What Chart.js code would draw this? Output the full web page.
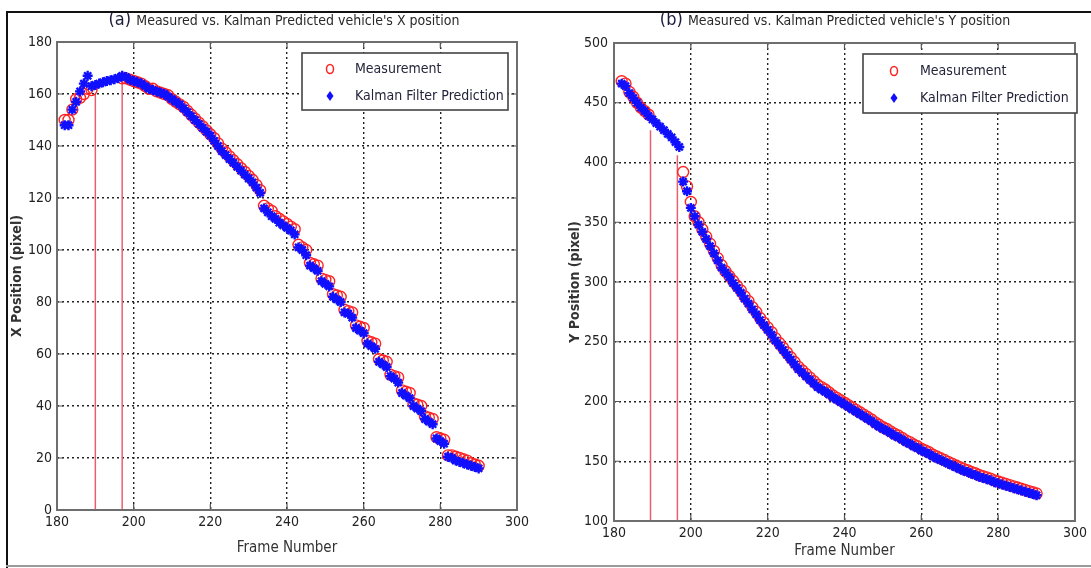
<!DOCTYPE html>
<html>
<head>
<meta charset="utf-8">
<script src="https://cdn.jsdelivr.net/npm/chart.js@4.4.1/dist/chart.umd.min.js"></script>
<style>
  html, body { margin:0; padding:0; background:#fff; }
  body { width:1091px; height:568px; position:relative; overflow:hidden; }
  canvas { position:absolute; top:0; }
  #cL { left:0; }
  #cR { left:546px; }
  .ln { position:absolute; z-index:5; }
</style>
</head>
<body>
<canvas id="cL" width="546" height="568"></canvas>
<canvas id="cR" width="545" height="568"></canvas>
<div class="ln" style="left:6px;top:11px;width:1085px;height:2px;background:#111;"></div>
<div class="ln" style="left:6px;top:11px;width:2px;height:557px;background:#111;"></div>
<div class="ln" style="left:6px;top:565px;width:1085px;height:2px;background:#9a9a9a;"></div>
<script>
// ---------------- DATA ----------------
// (a) X position
const framesKalmanX = [182,183,184,185,186,187,188,189,190,191,192,193,194,195,196,197,198,199,200,201,202,203,204,205,206,207,208,209,210,211,212,213,214,215,216,217,218,219,220,221,222,223,224,225,226,227,228,229,230,231,232,233,234,235,236,237,238,239,240,241,242,243,244,245,246,247,248,249,250,251,252,253,254,255,256,257,258,259,260,261,262,263,264,265,266,267,268,269,270,271,272,273,274,275,276,277,278,279,280,281,282,283,284,285,286,287,288,289,290];
const kalmanX = [148,148,154,157,161,164,167,163,163.5,164,164.5,165,165.3,165.7,166.2,167,166.5,165.5,165,164.5,164,163,162,161.5,161,160.5,160,159,158,157,156,154.5,153,151.5,150,148.5,147,145.5,144,142,140,138,136.5,135,133.5,132,130.5,129,127.5,126,124,122,116,114.5,113,112,110.5,109.5,108.5,107.5,106,101,100,98,94,93,92,88,87,86,82,81,80,76,75.5,74,70,69,68,64,63,62,57,56,55,51.5,50.5,49,45,44,43,40,39,38,35,34,33,27.5,26.5,25.5,20.5,20,19,18.5,18,17.5,17,16.5,16];
const framesMeasX = [182,183,184,185,186,187,188,189,197,198,199,200,201,202,203,204,205,206,207,208,209,210,211,212,213,214,215,216,217,218,219,220,221,222,223,224,225,226,227,228,229,230,231,232,233,234,235,236,237,238,239,240,241,242,243,244,245,246,247,248,249,250,251,252,253,254,255,256,257,258,259,260,261,262,263,264,265,266,267,268,269,270,271,272,273,274,275,276,277,278,279,280,281,282,283,284,285,286,287,288,289,290];
const measX = [150,150,154,158,158.5,160,162,161.5,166,166,165.5,165,164.5,164,163,162,162,161,160.5,160,159.5,158,157,156,155,153.5,152,150.5,149,147.5,146,144.5,143,141,139,137.5,136,134.5,133,131.5,130,128.5,127,125,123,117,116,115,113,112,111,110,109,108,102,101,100,95,94.5,94,89,88.5,88,83,82.5,82,77,76.5,76,71,70.5,70,65,64.5,64,58,57.5,57,52,51.5,51,46,45.5,45,41,40.5,40,36,35.5,35,28,27.5,27,21,21,20.5,20,19.5,19,18,17.5,17];
const occlusionFramesX = [190,197];
const occlusionTopsX = [160,165];

// (b) Y position
const framesKalmanY = framesKalmanX;
const kalmanY = [466,464,458,454,450,446,443,439,436,433,430,427,424,421,417,413,384,376,362,355,348,342,336,330,324,318,312,308,304,299,295,291,286,282,277,273,268,264,260,256,251,247,243,239,235,231,227,224,221,218,215,212,210,208,206,203.5,201.5,199.5,197.5,195.5,193.5,191.5,189.5,187.5,185.5,183.5,181,179,177,175.5,173.5,171.5,170,168,166,164.5,162.5,161,159,157.5,156,154,152.5,151,149.5,148,146.5,145,143.5,142,141,139.5,138.5,137,136,135,134,132.5,131.5,130.5,129.5,128.5,127.5,126.5,125.5,124.5,123.5,122.5,121.5];
const framesMeasY = [182,183,184,185,186,187,188,189,198,199,200,201,202,203,204,205,206,207,208,209,210,211,212,213,214,215,216,217,218,219,220,221,222,223,224,225,226,227,228,229,230,231,232,233,234,235,236,237,238,239,240,241,242,243,244,245,246,247,248,249,250,251,252,253,254,255,256,257,258,259,260,261,262,263,264,265,266,267,268,269,270,271,272,273,274,275,276,277,278,279,280,281,282,283,284,285,286,287,288,289,290];
const measY = [468,466,459,455,450,446,443,440,392,380,367,355,350,344,338,332,326,320,314,309,305,301,297,293,288,284,279,275,270,266,262,258,253,249,245,241,237,233,229,226,223,220,217,214,212,210,207.5,205,203,201,199,197,195,193,191,189,187,185,182.5,180.5,178.5,177,175,173,171.5,169.5,167.5,166,164,162.5,160.5,159,157.5,155.5,154,152.5,151,149.5,148,146.5,145,143.5,142.5,141,140,138.5,137.5,136.5,135.5,134,133,132,131,130,129,128,127,126,125,124,123];
const occlusionFramesY = [189.5,196.5];
const occlusionTopsY = [427,406];

const xTickValues = [180,200,220,240,260,280,300];
const yTicksX = [0,20,40,60,80,100,120,140,160,180];
const yTicksY = [100,150,200,250,300,350,400,450,500];

// ---------------- STYLE ----------------
const FONT = "'Liberation Sans Narrow','DejaVu Sans Condensed','Liberation Sans',Arial,sans-serif";
const TXT = '#222';
const RED = '#ff2323';
const BLUE = '#1010ff';
const OCC = '#e8606e';

function pts(xs, ys){ return xs.map((x,i)=>({x:x, y:ys[i]})); }

const framePlugin = {
  id:'frame',
  afterDraw(chart, args, o){
    const {ctx, chartArea:a, scales} = chart;
    ctx.save();
    // tick marks inside
    ctx.strokeStyle = '#555'; ctx.lineWidth = 1.2;
    scales.x.ticks.forEach(t=>{
      const px = scales.x.getPixelForValue(t.value);
      ctx.beginPath(); ctx.moveTo(px, a.bottom); ctx.lineTo(px, a.bottom-6);
      ctx.moveTo(px, a.top); ctx.lineTo(px, a.top+6); ctx.stroke();
    });
    scales.y.ticks.forEach(t=>{
      const py = scales.y.getPixelForValue(t.value);
      ctx.beginPath(); ctx.moveTo(a.left, py); ctx.lineTo(a.left+6, py);
      ctx.moveTo(a.right, py); ctx.lineTo(a.right-6, py); ctx.stroke();
    });
    // box
    ctx.strokeStyle = '#6e6e6e'; ctx.lineWidth = 2;
    ctx.strokeRect(a.left, a.top, a.right-a.left, a.bottom-a.top);
    // title
    ctx.textBaseline = 'middle';
    ctx.font = '18px ' + FONT;
    const w1 = ctx.measureText(o.tag + ' ').width;
    ctx.font = '14px ' + FONT;
    const w2 = ctx.measureText(o.title).width;
    let sx = o.titleX - (w1+w2)/2;
    ctx.font = '18px ' + FONT; ctx.fillStyle = '#1c1c3a';
    ctx.fillText(o.tag, sx, o.titleY);
    ctx.font = '14px ' + FONT; ctx.fillStyle = '#2a2a2a';
    ctx.fillText(o.title, sx + w1, o.titleY+1);
    // legend
    const L = o.legend;
    ctx.fillStyle = '#fff';
    ctx.fillRect(L.x, L.y, L.w, L.h);
    ctx.strokeStyle = '#444'; ctx.lineWidth = 1.6;
    ctx.strokeRect(L.x, L.y, L.w, L.h);
    ctx.font = '14px ' + FONT; ctx.fillStyle = '#24243a'; ctx.textBaseline='middle';
    ctx.fillText('Measurement', L.tx, L.r1);
    ctx.fillText('Kalman Filter Prediction', L.tx, L.r2);
    ctx.strokeStyle = RED; ctx.lineWidth = 1.5;
    ctx.beginPath(); ctx.ellipse(L.mx, L.r1, 3.5, 4.5, 0, 0, Math.PI*2); ctx.stroke();
    ctx.fillStyle = BLUE;
    ctx.beginPath(); ctx.moveTo(L.mx, L.r2-5); ctx.lineTo(L.mx+3.5, L.r2); ctx.lineTo(L.mx, L.r2+5); ctx.lineTo(L.mx-3.5, L.r2); ctx.closePath(); ctx.fill();
    ctx.restore();
  }
};

function makeChart(id, cfg){
  const occ = cfg.occF.map((f,i)=>({
    type:'line', label:'occ'+i,
    data:[{x:f, y:cfg.yMin},{x:f, y:cfg.occT[i]}],
    borderColor:OCC, borderWidth:1.5, pointRadius:0, order:3, showLine:true
  }));
  return new Chart(document.getElementById(id), {
    type:'scatter',
    data:{ datasets:[
      {label:'Measurement', data:pts(cfg.mf, cfg.mv), pointStyle:'circle', pointRadius:5.5, pointHoverRadius:5.5,
       borderColor:RED, backgroundColor:'rgba(0,0,0,0)', borderWidth:1.4, order:2},
      {label:'Kalman Filter Prediction', data:pts(cfg.kf, cfg.kv), pointStyle:'star', pointRadius:5, pointHoverRadius:5,
       borderColor:BLUE, backgroundColor:BLUE, borderWidth:2.4, order:1},
      ...occ
    ]},
    options:{
      responsive:false, animation:false,
      layout:{padding:{left:0, right:cfg.padR, top:cfg.padT, bottom:0}},
      plugins:{legend:{display:false}, tooltip:{enabled:false}, frame:cfg.frame},
      scales:{
        x:{type:'linear', min:180, max:300,
           afterBuildTicks: s=>{ s.ticks = xTickValues.map(v=>({value:v})); },
           afterFit: s=>{ s.height = cfg.xH; },
           ticks:{color:TXT, font:{family:FONT, size:14}, padding:4, maxRotation:0},
           grid:{color:'#222', lineWidth:1.4, drawTicks:false},
           border:{display:false, dash:[2,3]},
           title:{display:true, text:'Frame Number', color:'#333', font:{family:FONT, size:15}, padding:{top:0, bottom:cfg.xTitlePad}}
        },
        y:{type:'linear', min:cfg.yMin, max:cfg.yMax,
           afterBuildTicks: s=>{ s.ticks = cfg.yTicks.map(v=>({value:v})); },
           afterFit: s=>{ s.width = cfg.yW; },
           ticks:{color:TXT, font:{family:FONT, size:14}, padding:cfg.yTickPad},
           grid:{color:'#222', lineWidth:1.4, drawTicks:false},
           border:{display:false, dash:[2,3]},
           title:{display:true, text:cfg.yTitle, color:'#333', font:{family:FONT, size:14, weight:'bold'}, padding:{top:cfg.yTitlePad, bottom:0}}
        }
      }
    },
    plugins:[framePlugin]
  });
}

makeChart('cL', {
  mf:framesMeasX, mv:measX, kf:framesKalmanX, kv:kalmanX,
  occF:occlusionFramesX, occT:occlusionTopsX,
  yMin:0, yMax:180, yTicks:yTicksX, yTitle:'X Position (pixel)',
  padR:29, padT:42, xH:58, yW:57, xTitlePad:11, yTitlePad:9, yTickPad:5,
  frame:{tag:'(a)', title:"Measured vs. Kalman Predicted vehicle's X position", titleX:284, titleY:20,
         legend:{x:302, y:53, w:206, h:57, tx:355, mx:330, r1:69, r2:96}}
});
makeChart('cR', {
  mf:framesMeasY, mv:measY, kf:framesKalmanY, kv:kalmanY,
  occF:occlusionFramesY, occT:occlusionTopsY,
  yMin:100, yMax:500, yTicks:yTicksY, yTitle:'Y Position (pixel)',
  padR:8, padT:43, xH:47, yW:68, xTitlePad:8, yTitlePad:21, yTickPad:6,
  frame:{tag:'(b)', title:"Measured vs. Kalman Predicted vehicle's Y position", titleX:289, titleY:20,
         legend:{x:317, y:54, w:214, h:59, tx:374, mx:348, r1:71, r2:98}}
});
</script>
</body>
</html>
